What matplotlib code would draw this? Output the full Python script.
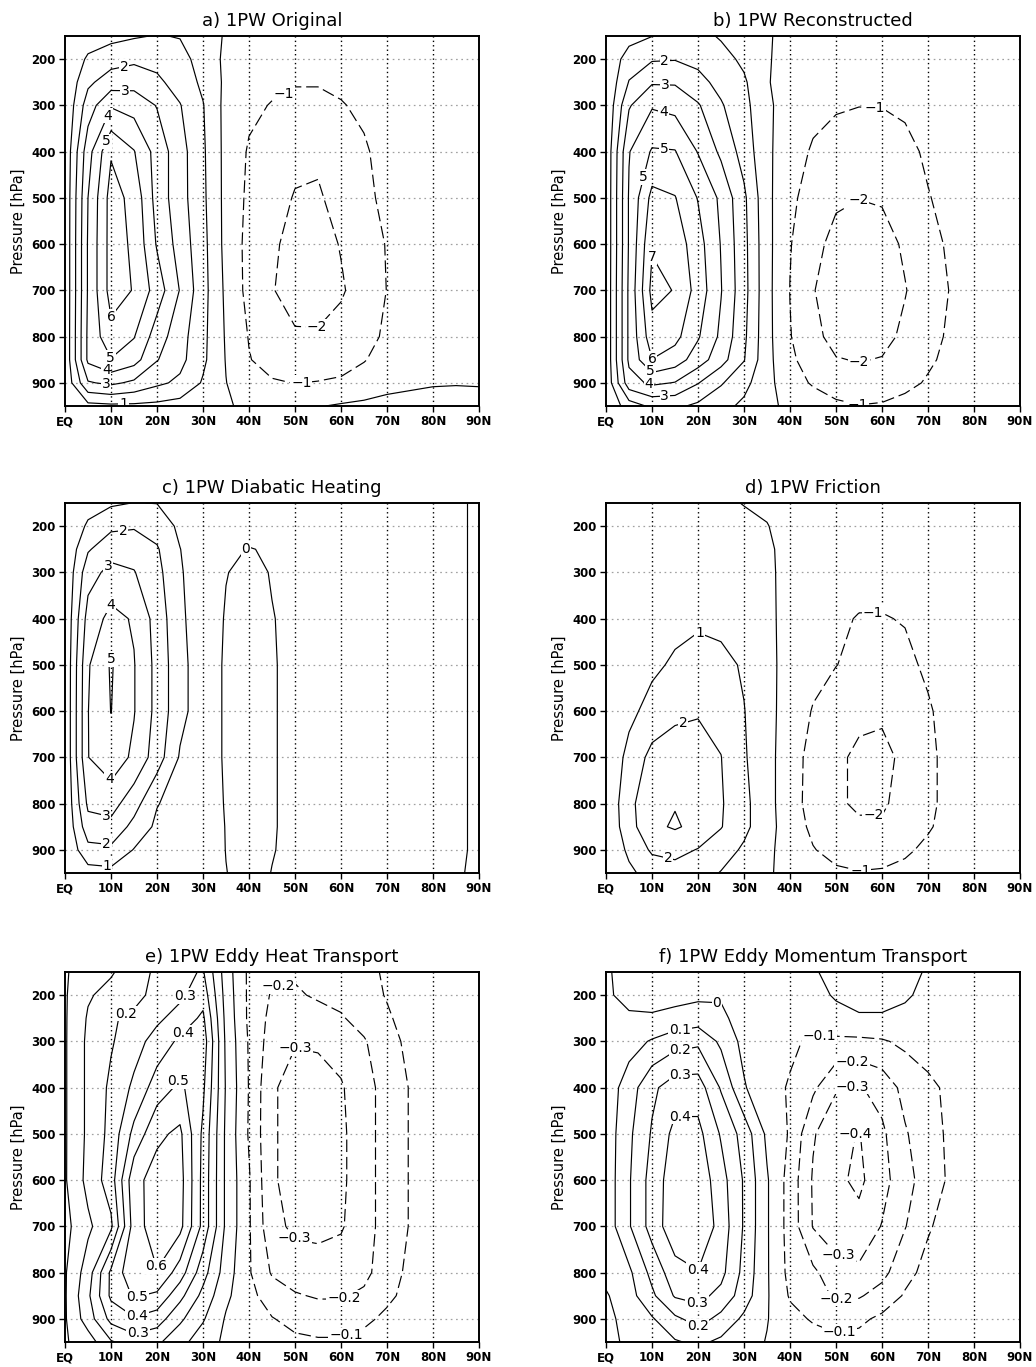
import numpy as np
import matplotlib
matplotlib.use('Agg')
import matplotlib.pyplot as plt

# Grid the fields were read on (latitude in deg N, pressure in hPa)
LATS = [0, 5, 10, 15, 20, 25, 30, 35, 40, 45, 50, 55, 60, 65, 70, 75, 80, 85, 90]
PLEVS = [150, 200, 250, 300, 400, 500, 600, 700, 800, 850, 900, 950]

LAT_TICKS = [0, 10, 20, 30, 40, 50, 60, 70, 80, 90]
LAT_LABELS = ['EQ', '10N', '20N', '30N', '40N', '50N', '60N', '70N', '80N', '90N']
P_TICKS = [200, 300, 400, 500, 600, 700, 800, 900]

TITLES = ['a) 1PW Original', 'b) 1PW Reconstructed', 'c) 1PW Diabatic Heating',
          'd) 1PW Friction', 'e) 1PW Eddy Heat Transport', 'f) 1PW Eddy Momentum Transport']

# one row per pressure level (150 -> 950 hPa), one value per latitude (EQ -> 90N)
ORIGINAL = [
    [0.1, 0.5, 0.7, 0.9, 1.05, 0.95, 0.5, -0.1, -0.3, -0.5, -0.6, -0.6, -0.5, -0.4, -0.3, -0.2, -0.1, -0.05, -0.05],
    [0.1, 1.15, 1.6, 1.8, 1.7, 1.35, 0.6, -0.2, -0.5, -0.7, -0.8, -0.8, -0.75, -0.6, -0.45, -0.3, -0.2, -0.1, -0.05],
    [0.1, 1.8, 2.5, 2.65, 2.2, 1.6, 0.8, -0.2, -0.6, -0.8, -0.95, -0.95, -0.85, -0.7, -0.5, -0.35, -0.2, -0.1, -0.05],
    [0.1, 2.5, 3.9, 3.6, 2.95, 2.05, 1.05, -0.3, -0.8, -1.05, -1.2, -1.2, -1.05, -0.85, -0.6, -0.4, -0.25, -0.1, -0.05],
    [0.2, 3.6, 5.9, 5.05, 3.6, 2.4, 1.15, -0.3, -1.1, -1.5, -1.8, -1.85, -1.6, -1.1, -0.7, -0.45, -0.3, -0.15, -0.05],
    [0.2, 4.0, 6.4, 5.7, 3.6, 2.4, 1.2, -0.3, -1.2, -1.7, -2.05, -2.1, -1.7, -1.2, -0.8, -0.5, -0.3, -0.15, -0.05],
    [0.2, 4.1, 6.4, 5.85, 3.9, 2.6, 1.3, -0.3, -1.3, -1.85, -2.3, -2.35, -1.95, -1.45, -0.95, -0.55, -0.35, -0.15, -0.05],
    [0.2, 4.1, 6.4, 5.95, 4.55, 2.95, 1.35, -0.2, -1.3, -1.95, -2.35, -2.4, -2.1, -1.6, -0.98, -0.6, -0.35, -0.15, -0.05],
    [0.2, 4.2, 5.7, 5.05, 3.5, 2.4, 1.25, -0.1, -1.05, -1.6, -1.9, -1.9, -1.7, -1.3, -0.85, -0.5, -0.3, -0.15, -0.05],
    [0.2, 4.2, 4.95, 4.4, 3.05, 2.3, 1.2, -0.05, -0.95, -1.4, -1.6, -1.6, -1.4, -1.05, -0.65, -0.4, -0.25, -0.1, -0.05],
    [0.2, 2.9, 3.2, 2.8, 2.2, 1.8, 0.9, 0.02, -0.6, -0.9, -1.02, -0.95, -0.85, -0.6, -0.3, -0.15, -0.05, -0.02, -0.02],
    [0.1, 0.7, 0.8, 0.8, 0.75, 0.6, 0.35, 0.05, -0.1, -0.2, -0.15, -0.05, 0.1, 0.2, 0.3, 0.3, 0.25, 0.15, 0.1],
]

RECONSTRUCTED = [
    [0.1, 0.6, 0.98, 1.3, 1.3, 0.9, 0.5, 0.05, -0.15, -0.2, -0.3, -0.35, -0.35, -0.3, -0.25, -0.15, -0.1, -0.05, -0.05],
    [0.1, 1.5, 1.9, 1.95, 1.75, 1.35, 0.8, 0.05, -0.2, -0.35, -0.45, -0.5, -0.5, -0.45, -0.35, -0.25, -0.15, -0.08, -0.05],
    [0.1, 2.05, 2.9, 2.9, 2.3, 1.7, 1.15, 0.05, -0.3, -0.5, -0.65, -0.7, -0.7, -0.6, -0.45, -0.3, -0.2, -0.1, -0.05],
    [0.1, 2.9, 3.9, 3.7, 3.1, 2.1, 1.3, 0.2, -0.5, -0.75, -0.9, -0.98, -0.97, -0.85, -0.65, -0.45, -0.3, -0.15, -0.08],
    [0.2, 3.95, 5.1, 5.05, 3.95, 2.8, 1.6, 0.2, -0.6, -1.1, -1.4, -1.55, -1.5, -1.25, -0.85, -0.55, -0.35, -0.2, -0.1],
    [0.2, 4.1, 6.3, 6.05, 4.95, 3.8, 2.2, 0.25, -0.8, -1.4, -1.85, -1.98, -1.9, -1.5, -1.05, -0.7, -0.45, -0.25, -0.1],
    [0.2, 4.1, 6.9, 6.6, 5.4, 3.95, 2.3, 0.3, -0.95, -1.7, -2.3, -2.55, -2.4, -1.85, -1.3, -0.85, -0.5, -0.25, -0.1],
    [0.2, 4.2, 7.3, 6.95, 5.6, 4.05, 2.35, 0.3, -1.02, -1.95, -2.5, -2.65, -2.5, -2.05, -1.45, -0.95, -0.55, -0.28, -0.1],
    [0.2, 4.2, 6.6, 6.3, 5.1, 3.8, 2.2, 0.3, -0.95, -1.75, -2.3, -2.4, -2.3, -1.8, -1.3, -0.85, -0.5, -0.25, -0.1],
    [0.2, 4.2, 5.98, 5.5, 4.5, 3.4, 2.05, 0.3, -0.8, -1.5, -1.95, -2.05, -1.95, -1.55, -1.15, -0.75, -0.45, -0.22, -0.1],
    [0.2, 3.6, 4.2, 3.95, 3.05, 2.1, 1.3, 0.3, -0.6, -1.1, -1.5, -1.6, -1.55, -1.25, -0.9, -0.6, -0.35, -0.18, -0.08],
    [0.1, 1.5, 2.2, 2.2, 1.8, 1.3, 0.8, 0.2, -0.2, -0.5, -0.8, -0.97, -0.9, -0.7, -0.5, -0.3, -0.2, -0.1, -0.05],
]

DIABATIC = [
    [0.1, 0.6, 0.85, 1.02, 0.98, 0.7, 0.5, 0.4, 0.35, 0.3, 0.3, 0.3, 0.3, 0.3, 0.25, 0.2, 0.15, 0.05, -0.05],
    [0.1, 1.15, 1.8, 1.9, 1.6, 0.8, 0.45, 0.3, 0.2, 0.2, 0.2, 0.2, 0.2, 0.2, 0.2, 0.15, 0.1, 0.05, -0.05],
    [0.1, 1.9, 2.6, 2.6, 2.1, 1.02, 0.35, 0.1, -0.02, 0.05, 0.15, 0.2, 0.2, 0.2, 0.2, 0.15, 0.1, 0.05, -0.05],
    [0.1, 2.6, 3.3, 3.05, 2.3, 1.1, 0.4, 0.02, -0.15, 0.03, 0.15, 0.2, 0.2, 0.2, 0.2, 0.15, 0.1, 0.05, -0.05],
    [0.1, 3.4, 4.3, 3.9, 2.6, 1.2, 0.4, -0.05, -0.2, -0.02, 0.12, 0.2, 0.2, 0.2, 0.2, 0.15, 0.1, 0.05, -0.05],
    [0.1, 3.9, 5.1, 4.05, 2.7, 1.3, 0.45, -0.1, -0.2, -0.03, 0.1, 0.15, 0.2, 0.2, 0.2, 0.15, 0.1, 0.05, -0.05],
    [0.1, 3.98, 5.02, 4.05, 2.7, 1.3, 0.45, -0.1, -0.2, -0.03, 0.1, 0.15, 0.2, 0.2, 0.2, 0.15, 0.1, 0.05, -0.05],
    [0.1, 3.98, 4.6, 3.8, 2.5, 0.9, 0.45, -0.1, -0.2, -0.03, 0.1, 0.15, 0.2, 0.2, 0.2, 0.15, 0.1, 0.05, -0.05],
    [0.1, 3.2, 3.4, 2.4, 1.05, 0.6, 0.4, -0.05, -0.2, -0.03, 0.1, 0.15, 0.2, 0.2, 0.2, 0.15, 0.1, 0.05, -0.05],
    [0.1, 2.6, 2.7, 1.7, 0.8, 0.5, 0.35, -0.02, -0.2, -0.03, 0.1, 0.15, 0.2, 0.2, 0.2, 0.15, 0.1, 0.05, -0.05],
    [0.1, 1.7, 1.8, 0.95, 0.5, 0.4, 0.3, -0.01, -0.15, -0.02, 0.1, 0.15, 0.2, 0.2, 0.2, 0.15, 0.1, 0.05, -0.05],
    [0.05, 0.6, 0.7, 0.5, 0.4, 0.3, 0.2, 0.01, -0.15, 0.01, 0.08, 0.1, 0.1, 0.1, 0.1, 0.1, 0.08, 0.03, -0.05],
]

FRICTION = [
    [0.05, 0.1, 0.15, 0.2, 0.2, 0.15, -0.03, -0.1, -0.15, -0.2, -0.25, -0.25, -0.25, -0.2, -0.15, -0.1, -0.08, -0.05, -0.03],
    [0.05, 0.15, 0.25, 0.3, 0.35, 0.3, 0.2, 0.02, -0.2, -0.3, -0.35, -0.4, -0.4, -0.35, -0.3, -0.2, -0.15, -0.1, -0.05],
    [0.05, 0.2, 0.3, 0.4, 0.45, 0.4, 0.3, 0.1, -0.2, -0.35, -0.45, -0.5, -0.5, -0.45, -0.4, -0.3, -0.2, -0.1, -0.05],
    [0.05, 0.25, 0.35, 0.5, 0.55, 0.5, 0.4, 0.15, -0.25, -0.45, -0.55, -0.65, -0.65, -0.55, -0.45, -0.35, -0.2, -0.1, -0.05],
    [0.05, 0.3, 0.5, 0.7, 0.85, 0.75, 0.5, 0.2, -0.3, -0.6, -0.85, -1.05, -1.05, -0.95, -0.7, -0.5, -0.3, -0.15, -0.05],
    [0.1, 0.45, 0.8, 1.15, 1.35, 1.25, 0.9, 0.3, -0.4, -0.75, -0.98, -1.25, -1.35, -1.2, -0.85, -0.55, -0.3, -0.15, -0.05],
    [0.1, 0.75, 1.35, 1.75, 1.9, 1.7, 1.03, 0.35, -0.5, -1.05, -1.5, -1.75, -1.85, -1.6, -1.1, -0.65, -0.35, -0.15, -0.05],
    [0.15, 1.3, 2.3, 2.55, 2.5, 2.02, 1.1, 0.35, -0.6, -1.3, -1.8, -2.2, -2.25, -1.8, -1.2, -0.7, -0.35, -0.15, -0.05],
    [0.15, 1.7, 2.8, 2.95, 2.7, 2.1, 1.25, 0.35, -0.6, -1.35, -1.9, -2.1, -2.1, -1.75, -1.2, -0.7, -0.35, -0.15, -0.05],
    [0.15, 1.6, 2.8, 3.1, 2.75, 2.05, 1.25, 0.35, -0.5, -1.2, -1.65, -1.9, -1.9, -1.6, -1.1, -0.65, -0.35, -0.15, -0.05],
    [0.1, 1.2, 2.15, 2.3, 1.95, 1.45, 0.85, 0.2, -0.4, -0.95, -1.3, -1.45, -1.4, -1.15, -0.8, -0.5, -0.3, -0.15, -0.05],
    [0.05, 0.8, 1.4, 1.6, 1.4, 0.95, 0.6, 0.1, -0.25, -0.6, -0.85, -0.95, -0.9, -0.75, -0.55, -0.35, -0.2, -0.1, -0.05],
]

EDDY_HEAT = [
    [-0.01, 0.05, 0.09, 0.15, 0.22, 0.27, 0.31, 0.05, -0.12, -0.18, -0.19, -0.18, -0.15, -0.12, -0.09, -0.05, -0.03, -0.02, -0.01],
    [-0.01, 0.09, 0.13, 0.17, 0.23, 0.28, 0.36, 0.06, -0.12, -0.21, -0.21, -0.19, -0.17, -0.13, -0.095, -0.06, -0.04, -0.02, -0.01],
    [-0.01, 0.11, 0.19, 0.22, 0.28, 0.34, 0.42, 0.07, -0.12, -0.23, -0.24, -0.23, -0.21, -0.16, -0.11, -0.07, -0.04, -0.02, -0.01],
    [-0.01, 0.12, 0.19, 0.26, 0.34, 0.42, 0.46, 0.08, -0.11, -0.25, -0.295, -0.29, -0.26, -0.21, -0.13, -0.08, -0.05, -0.02, -0.01],
    [-0.01, 0.12, 0.22, 0.32, 0.45, 0.52, 0.42, 0.09, -0.105, -0.29, -0.33, -0.33, -0.31, -0.24, -0.16, -0.095, -0.06, -0.03, -0.01],
    [-0.01, 0.12, 0.23, 0.43, 0.58, 0.62, 0.38, 0.08, -0.11, -0.29, -0.33, -0.34, -0.32, -0.24, -0.16, -0.095, -0.06, -0.03, -0.01],
    [-0.01, 0.13, 0.25, 0.57, 0.64, 0.64, 0.37, 0.08, -0.09, -0.29, -0.33, -0.35, -0.32, -0.24, -0.16, -0.095, -0.06, -0.03, -0.01],
    [-0.03, 0.08, 0.18, 0.55, 0.66, 0.63, 0.37, 0.08, -0.09, -0.27, -0.32, -0.33, -0.31, -0.24, -0.16, -0.095, -0.06, -0.03, -0.01],
    [-0.01, 0.15, 0.42, 0.58, 0.595, 0.45, 0.24, 0.05, -0.09, -0.21, -0.25, -0.25, -0.25, -0.23, -0.14, -0.08, -0.05, -0.02, -0.01],
    [-0.01, 0.18, 0.42, 0.51, 0.48, 0.33, 0.17, 0.02, -0.07, -0.15, -0.19, -0.21, -0.21, -0.18, -0.12, -0.07, -0.04, -0.02, -0.01],
    [-0.01, 0.15, 0.33, 0.39, 0.35, 0.22, 0.11, -0.01, -0.06, -0.095, -0.13, -0.14, -0.14, -0.12, -0.08, -0.05, -0.03, -0.02, -0.01],
    [-0.01, 0.05, 0.19, 0.25, 0.22, 0.13, 0.05, -0.02, -0.04, -0.06, -0.08, -0.09, -0.09, -0.07, -0.05, -0.03, -0.02, -0.01, -0.01],
]

EDDY_MOMENTUM = [
    [0.01, -0.03, -0.04, -0.04, -0.03, -0.03, -0.03, -0.03, -0.03, -0.01, 0.03, 0.05, 0.05, 0.03, -0.01, -0.02, -0.02, -0.01, -0.01],
    [0.01, -0.02, -0.03, -0.03, -0.02, -0.01, -0.03, -0.04, -0.05, -0.03, 0.01, 0.03, 0.03, 0.01, -0.02, -0.03, -0.02, -0.01, -0.01],
    [0.03, 0.01, 0.01, 0.03, 0.05, 0.02, -0.04, -0.06, -0.07, -0.07, -0.03, -0.01, -0.01, -0.02, -0.04, -0.04, -0.03, -0.02, -0.01],
    [0.03, 0.06, 0.11, 0.16, 0.18, 0.08, -0.03, -0.07, -0.09, -0.11, -0.12, -0.12, -0.11, -0.08, -0.06, -0.05, -0.03, -0.02, -0.01],
    [0.04, 0.15, 0.28, 0.35, 0.35, 0.19, 0.01, -0.08, -0.105, -0.18, -0.29, -0.31, -0.26, -0.17, -0.12, -0.08, -0.05, -0.03, -0.01],
    [0.04, 0.18, 0.31, 0.43, 0.43, 0.29, 0.16, -0.02, -0.11, -0.29, -0.37, -0.405, -0.32, -0.21, -0.14, -0.08, -0.05, -0.03, -0.01],
    [0.04, 0.19, 0.34, 0.46, 0.47, 0.34, 0.19, 0.01, -0.14, -0.31, -0.38, -0.42, -0.34, -0.23, -0.16, -0.08, -0.05, -0.03, -0.01],
    [0.04, 0.19, 0.34, 0.47, 0.49, 0.36, 0.19, 0.01, -0.14, -0.305, -0.36, -0.37, -0.295, -0.205, -0.11, -0.06, -0.04, -0.02, -0.01],
    [0.03, 0.08, 0.23, 0.36, 0.395, 0.33, 0.17, 0.01, -0.13, -0.18, -0.26, -0.28, -0.23, -0.13, -0.07, -0.04, -0.03, -0.02, -0.01],
    [-0.01, 0.06, 0.18, 0.31, 0.33, 0.27, 0.15, 0.01, -0.11, -0.17, -0.21, -0.21, -0.16, -0.09, -0.05, -0.03, -0.02, -0.01, -0.01],
    [-0.03, 0.04, 0.09, 0.18, 0.24, 0.17, 0.08, 0.005, -0.07, -0.11, -0.13, -0.12, -0.08, -0.05, -0.03, -0.02, -0.01, -0.01, -0.01],
    [-0.03, 0.02, 0.05, 0.09, 0.12, 0.08, 0.04, -0.005, -0.04, -0.06, -0.08, -0.07, -0.05, -0.03, -0.02, -0.01, -0.01, -0.01, -0.01],
]

INT_LEVELS = [-3, -2, -1, 0, 1, 2, 3, 4, 5, 6, 7]
TENTH_LEVELS = [-0.5, -0.4, -0.3, -0.2, -0.1, 0.0, 0.1, 0.2, 0.3, 0.4, 0.5, 0.6, 0.7]

# where the labels sit on the contours (lat, hPa), as in the original
LABEL_SPOTS = [
    [(13, 223), (13, 274), (9, 321), (9, 378), (9, 768), (9, 850), (9, 872), (9, 901),
     (12.7, 944), (47.5, 274), (54.7, 782), (51.4, 903)],
    [(12.8, 205), (12.8, 256), (12.8, 306), (12.8, 375), (9.2, 458), (9.2, 627), (9.2, 850),
     (9.2, 879), (9.2, 908), (12.8, 933), (58.5, 301), (54.9, 505), (54.9, 872), (54.9, 944)],
    [(12.7, 218), (9.1, 283), (9.1, 366), (9.1, 471), (9.1, 752), (9.1, 820), (9.1, 878),
     (9.1, 936), (38.8, 240)],
    [(20.4, 431), (16.8, 629), (13.2, 932), (58.1, 373), (58.1, 831), (55.2, 936)],
    [(12.7, 229), (27.2, 211), (27.2, 297), (23.6, 380), (19.9, 785), (15.9, 864), (15.9, 900),
     (15.9, 932), (46.4, 182), (50, 308), (50, 724), (60.9, 860), (61.2, 939)],
    [(24.1, 218), (16.1, 272), (16.1, 315), (16.1, 365), (16.1, 441), (19.7, 803), (19.7, 871),
     (19.7, 921), (46.5, 278), (53.4, 337), (53.4, 390), (53.4, 494), (50.1, 774), (50.1, 868),
     (50.9, 932)],
]

# axes boxes in figure fractions (figure is 1036 x 1367 px)
AX_W = 414 / 1036
AX_H = 370 / 1367
COL_X = [65 / 1036, 606 / 1036]
ROW_Y = [1 - 406 / 1367, 1 - 873 / 1367, 1 - 1342 / 1367]

NEG_DASH = (0, (9, 3.5))


def label_text(v):
    s = f"{v:g}"
    if s == '-0':
        s = '0'
    return s.replace('-', '\u2212')


def draw_panel(ax, field, levels, title, spots):
    z = np.array(field)
    styles = ['solid' if lev >= 0 else NEG_DASH for lev in levels]
    cs = ax.contour(LATS, PLEVS, z, levels=levels, colors='k', linewidths=0.85,
                    linestyles=styles)
    # GrADS style: upright labels sitting on a white patch over the line
    texts = ax.clabel(cs, inline=False, fontsize=10, fmt=label_text, manual=spots)
    for t in texts:
        t.set_rotation(0)
        t.set_bbox(dict(facecolor='white', edgecolor='none', pad=0.6))
        t.set_zorder(5)

    ax.set_xlim(0, 90)
    ax.set_ylim(950, 150)
    ax.set_xticks(LAT_TICKS)
    ax.set_xticklabels(LAT_LABELS)
    ax.set_yticks(P_TICKS)
    ax.tick_params(direction='out', length=4, width=1, labelsize=8.5, pad=2.5)
    for lab in ax.get_xticklabels() + ax.get_yticklabels():
        lab.set_fontweight('bold')

    # dotted grid: grey along pressure, black along latitude
    for p in P_TICKS:
        ax.axhline(p, color='#a0a0a0', lw=0.9, ls=(0, (1.2, 2.6)), zorder=0)
    for lat in LAT_TICKS[1:-1]:
        ax.axvline(lat, color='k', lw=1.0, ls=(0, (1, 2.2)), zorder=0)

    for sp in ax.spines.values():
        sp.set_linewidth(1.4)
        sp.set_zorder(6)

    ax.set_title(title, fontsize=13, pad=7)
    ax.set_ylabel('Pressure [hPa]', fontsize=10.5, labelpad=4)


def main():
    plt.rcParams['lines.scale_dashes'] = False
    fig = plt.figure(figsize=(10.36, 13.67), dpi=100)

    fields = [ORIGINAL, RECONSTRUCTED, DIABATIC, FRICTION, EDDY_HEAT, EDDY_MOMENTUM]
    level_sets = [INT_LEVELS] * 4 + [TENTH_LEVELS] * 2

    for i, field in enumerate(fields):
        row, col = divmod(i, 2)
        ax = fig.add_axes([COL_X[col], ROW_Y[row], AX_W, AX_H])
        draw_panel(ax, field, level_sets[i], TITLES[i], LABEL_SPOTS[i])

    fig.savefig('out.png', dpi=100)


if __name__ == "__main__":
    main()
